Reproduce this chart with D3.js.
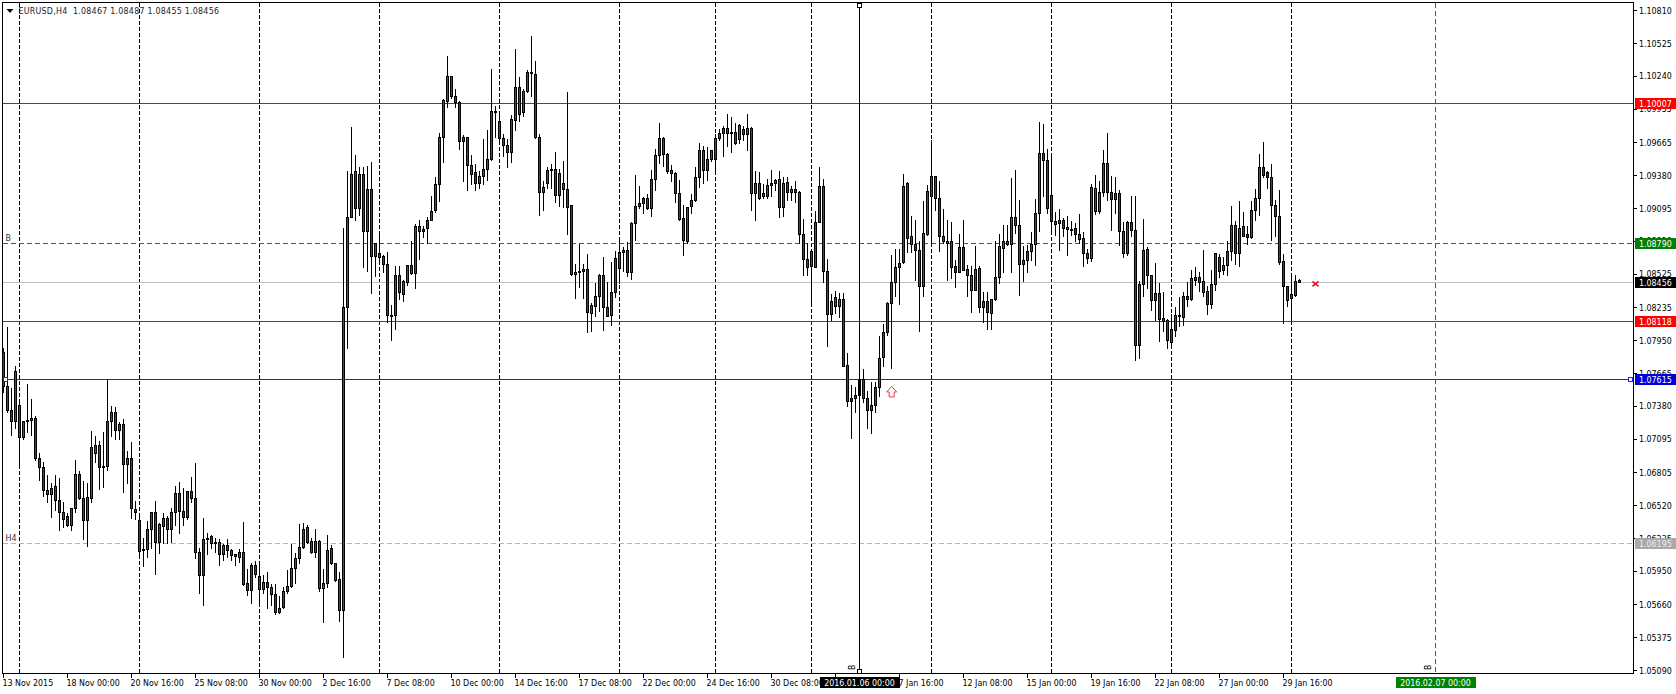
<!DOCTYPE html>
<html><head><meta charset="utf-8">
<script src="https://cdn.jsdelivr.net/npm/d3@7/dist/d3.min.js"></script>
<style>
html,body{margin:0;padding:0;background:#fff;overflow:hidden}
svg{display:block}
text{font-family:"DejaVu Sans","Liberation Sans",sans-serif;font-stretch:condensed;font-size:8.8px;fill:#000}
</style></head><body>
<svg id="c" width="1676" height="694"></svg>
<script>
// Prices in points above 1.00000 (8456 means 1.08456)
const highs=[7892,8074,7545,7733,7450,7251,7580,7450,7300,6979,
6904,6788,6722,6788,6765,6557,6462,6505,6921,6823,
6736,6722,7170,7123,7083,7164,7623,7386,7381,7251,
7277,6996,7074,6563,6462,6245,6390,6471,6563,6375,
6456,6433,6505,6693,6728,6679,6641,6771,6895,6159,
6419,6283,6268,6245,6234,6187,6237,6144,6101,6150,
6384,5971,6029,6043,6043,5919,5948,5841,5847,5740,
5818,5965,6193,6115,6367,6375,6355,6245,6317,6222,
5977,6271,6179,6029,5951,8929,9426,9807,9564,9460,
9455,9469,9504,8790,8871,8698,8724,8264,8596,8602,
8478,8599,8819,8963,8998,8949,9027,9209,9368,9755,
10044,10422,10240,10133,10027,9735,9712,9564,9483,9420,
9703,9778,10310,9986,9946,9743,9700,9908,10483,10235,
10136,10301,10596,10379,9743,9339,9455,9483,9590,9440,
9512,10110,9128,8617,8790,8617,8703,8276,8452,8530,
8674,8464,8637,8732,8848,8761,8804,8978,9391,9296,
9194,9223,9434,9613,9842,9720,9576,9475,9417,9348,
9125,9108,9223,9455,9663,9642,9628,9599,9743,9787,
9816,9917,9888,9839,9830,9816,9917,9801,9420,9411,
9310,9353,9431,9353,9426,9368,9368,9296,9333,9246,
9007,8799,8747,9079,9455,9353,8660,8357,8386,8365,
8363,7846,7569,7548,7707,7707,7520,7592,7592,7996,
8097,8291,8698,8747,8747,9397,9331,9036,8999,8820,
9166,9305,9692,9371,9340,9094,8999,8981,8652,8877,
8999,8612,8603,8776,8597,8372,8378,8314,8820,8877,
8958,8958,9363,9432,9175,8776,8785,8898,9178,9848,
9831,9614,9556,9065,9094,9016,9036,8987,8973,9051,
8892,8747,9311,9392,9340,9605,9753,9383,9369,9259,
8979,8993,9210,9210,8473,9007,8762,8525,8626,8453,
8372,8141,8184,8242,8328,8372,8458,8565,8594,8545,
8739,8430,8565,8704,8704,8675,8820,9123,8987,9166,
9065,8950,9166,9267,9571,9678,9426,9484,9175,9259,
8704,8421,8531,8525,8487];
const lows=[7502,7323,7129,7184,6858,7095,7155,7126,6910,6736,
6595,6549,6419,6476,6300,6332,6338,6303,6462,6569,
6222,6164,6549,6895,6655,6673,6823,7118,7089,7089,
6629,6707,6404,6395,6072,5994,6072,6144,5919,6101,
6187,6187,6202,6346,6274,6346,6395,6549,6063,5760,
5650,6092,6150,6109,5997,6043,6072,6043,6003,6029,
5829,5740,5673,5893,5653,5760,5624,5653,5572,5587,
5624,5760,5806,5847,6014,6150,6193,6107,6066,5777,
5503,5806,6005,5861,5517,5205,7883,9012,8986,9036,
8579,8544,8354,8501,8617,8536,8105,7952,8048,8308,
8290,8423,8524,8397,8651,8842,8790,8986,9056,9151,
9495,9969,10050,9969,9608,9324,9246,9304,9252,9267,
9304,9339,9512,9709,9663,9547,9446,9489,9767,9847,
9888,10102,10061,9700,9036,9079,9267,9267,9145,9114,
9102,8871,8516,8310,8409,8310,8016,8024,8154,8198,
8039,8154,8076,8322,8443,8544,8501,8478,8819,9093,
9050,9088,9021,9252,9483,9460,9397,9324,9142,8986,
8689,8790,9050,9157,9275,9310,9339,9498,9397,9680,
9547,9634,9576,9651,9657,9686,9593,9079,8986,9174,
9180,9180,9194,9252,9012,9021,9166,9166,9142,8790,
8516,8516,8256,8579,8969,8449,7894,8120,8183,8149,
7722,7381,7098,7323,7173,7413,7187,7144,7323,7462,
7722,7990,7707,8334,8259,8617,8710,8710,8473,8025,
8328,8863,8791,9074,8719,8791,8473,8487,8407,8536,
8554,8328,8190,8380,8190,8103,8045,8045,8300,8444,
8536,8776,8536,8877,8337,8458,8536,8646,8597,8892,
9195,9051,8877,8863,8733,8849,8684,8857,8805,8791,
8589,8617,8632,9045,9051,9195,9161,8906,9051,8776,
8669,8690,8849,7774,7794,8328,8401,8213,8126,7938,
8025,7884,7881,7982,8068,8080,8242,8300,8430,8372,
8328,8178,8224,8380,8496,8525,8516,8646,8609,8589,
8849,8785,8837,8993,9036,9363,9267,8820,8849,8612,
8097,8242,8126,8328,8455];
const opens=[7849,7551,7343,7245,7386,7106,7245,7256,7274,6924,
6846,6647,6612,6684,6560,6459,6424,6343,6491,6788,
6580,6390,6578,6970,7040,6858,6858,7248,7326,7170,
7222,6875,6927,6485,6390,6127,6138,6312,6462,6196,
6341,6407,6309,6459,6627,6471,6413,6641,6580,6112,
5910,6228,6254,6202,6199,6092,6176,6133,6095,6072,
6112,5847,5780,6000,5904,5789,5852,5809,5748,5589,
5639,5774,5815,5974,6060,6156,6329,6208,6109,6211,
5797,5841,6147,6020,5878,5607,8235,9015,9414,9090,
9391,8899,9261,8674,8703,8680,8608,8163,8163,8513,
8345,8455,8599,8527,8937,8914,8917,8986,9073,9298,
9712,10018,10240,10067,10015,9671,9712,9469,9408,9313,
9371,9431,9515,9923,9847,9703,9639,9576,9853,10142,
9923,10105,10263,10255,9712,9229,9307,9423,9431,9209,
9310,9258,9119,8518,8536,8544,8565,8180,8241,8328,
8513,8235,8163,8362,8570,8709,8732,8536,8963,9108,
9137,9180,9090,9342,9550,9703,9564,9394,9397,9226,
9007,8810,9108,9160,9362,9596,9420,9515,9518,9697,
9743,9790,9743,9752,9688,9781,9732,9787,9220,9313,
9200,9200,9290,9307,9345,9099,9319,9229,9258,9235,
8868,8651,8718,8585,8972,9284,8544,8172,8319,8241,
8305,7733,7447,7444,7473,7612,7447,7340,7384,7543,
7800,8016,8271,8450,8580,8623,9311,8851,8785,8730,
8415,8872,9195,9371,9181,8851,8808,8808,8589,8539,
8756,8565,8513,8386,8574,8233,8288,8181,8302,8493,
8747,8808,8782,9016,8947,8606,8646,8719,8785,9048,
9571,9510,9207,8981,8961,8987,8929,8915,8921,8869,
8834,8707,8658,9267,9071,9230,9484,9230,9169,9224,
8895,8701,8973,8906,7904,8435,8739,8516,8300,8357,
8141,8126,7930,8040,8155,8146,8331,8305,8473,8496,
8458,8375,8259,8432,8669,8560,8597,8719,8947,8707,
8938,8872,8840,9077,9178,9449,9403,9363,9120,9025,
8635,8415,8311,8343,8467];
const closes=[7551,7343,7245,7684,7106,7251,7256,7274,6924,6846,
6647,6612,6667,6560,6459,6395,6343,6494,6788,6578,
6390,6589,7022,7040,6849,6849,7251,7326,7170,7222,
6875,6927,6494,6456,6124,6141,6312,6462,6196,6358,
6407,6309,6459,6627,6465,6419,6641,6578,6109,5910,
6225,6234,6187,6187,6092,6176,6127,6083,6078,6112,
5838,5780,6000,5919,5789,5852,5806,5745,5589,5624,
5774,5818,5974,6060,6156,6312,6202,6115,6208,5797,
5844,6130,6014,5867,5607,8235,9015,9391,9090,9391,
8899,9261,8674,8787,8666,8608,8163,8166,8513,8362,
8461,8599,8527,8937,8899,8894,8992,9070,9301,9712,
10027,10240,10061,10009,9671,9712,9463,9385,9310,9371,
9434,9518,9934,9931,9697,9639,9576,9865,10142,9905,
10107,10275,10272,9706,9232,9275,9423,9431,9203,9397,
9255,9099,8518,8542,8547,8565,8189,8256,8331,8513,
8232,8160,8365,8660,8712,8732,8536,8966,9111,9137,
9180,9090,9345,9556,9703,9558,9414,9423,9223,9001,
8813,9105,9163,9365,9596,9420,9518,9596,9700,9743,
9787,9741,9752,9654,9816,9732,9787,9220,9313,9183,
9223,9293,9310,9336,9099,9313,9229,9258,9232,8868,
8648,8582,8588,8972,9284,8544,8175,8287,8241,8308,
7728,7418,7418,7473,7612,7447,7340,7387,7543,7794,
8019,8274,8453,8583,8617,9285,8831,8779,8727,8415,
8877,9241,9371,9178,8849,8805,8791,8580,8539,8756,
8560,8510,8386,8565,8236,8288,8190,8305,8496,8768,
8808,8782,9016,8944,8606,8643,8721,8785,9051,9571,
9510,9091,8981,8953,8987,8924,8912,8909,8866,8828,
8701,8658,9276,9065,9233,9484,9230,9169,9224,8892,
8701,8973,8901,7904,8435,8730,8513,8300,8357,8135,
8118,7953,8045,8167,8167,8331,8305,8487,8496,8456,
8369,8259,8435,8704,8551,8600,8721,8947,8707,8924,
8854,8840,9077,9181,9449,9383,9360,9117,9022,8626,
8415,8297,8349,8458,8456];

const priceTicks=["1.10810","1.10525","1.10240","1.09955","1.09665","1.09380","1.09095","1.08810","1.08525","1.08235","1.07950","1.07665","1.07380","1.07095","1.06805","1.06520","1.06235","1.05950","1.05660","1.05375","1.05090"];
const timeTickBars=d3.range(0,321,16);
const timeTickLabels=["13 Nov 2015","18 Nov 00:00","20 Nov 16:00","25 Nov 08:00","30 Nov 00:00","2 Dec 16:00","7 Dec 08:00","10 Dec 00:00","14 Dec 16:00","17 Dec 08:00","22 Dec 00:00","24 Dec 16:00","30 Dec 08:00","5 Jan 00:00","7 Jan 16:00","12 Jan 08:00","15 Jan 00:00","19 Jan 16:00","22 Jan 08:00","27 Jan 00:00","29 Jan 16:00"];
const separatorBars=[4,34,64,94,124,154,178,202,232,262,292,322];
const levelPrices=[1.10007,1.08790,1.08456,1.08118,1.07615,1.06195];
const levelColors=["#d01018","#1a7a2a","#c0c0c0","#d01018","#1c1cff","#b4b4b4"];
const levelDashes=[null,"5,3",null,null,null,"5,3"];
const levelBoxColors=["#ff0000","#008000","#000000","#ff0000","#0000dd","#a9a9a9"];
const levelBoxText=["#fff","#fff","#fff","#fff","#fff","#eee"];
const vlineBars=[214,358];
const vlineLabels=["2016.01.06 00:00","2016.02.07 00:00"];
const vlineColors=["#000","#1a7a2a"];
const vlineBoxColors=["#000","#008000"];
const vlineDashes=[null,"5,3"];
const arrowBar=222, arrowPrice=1.07504;
const crossBar=328, crossPrice=1.08440;
const title="EURUSD,H4  1.08467 1.08487 1.08455 1.08456";

const L=2.5,T=2.5,R=1633.5,B=673.5;
const toPrice=v=>1+v/1e5;
const x=d3.scaleLinear().domain([0,324]).range([3.5,1299.5]);
const y=d3.scaleLinear().domain([1.0509,1.1081]).range([670.5,10.5]);
const py=p=>Math.round(y(p)-.5)+.5;

const svg=d3.select("#c");
const crisp=svg.append("g").attr("shape-rendering","crispEdges");

// separators
crisp.append("g").selectAll("line").data(separatorBars).join("line")
 .attr("x1",d=>x(d)).attr("x2",d=>x(d)).attr("y1",T).attr("y2",B)
 .attr("stroke","#000").attr("stroke-dasharray","4,2");

// horizontal levels
crisp.append("g").selectAll("line").data(levelPrices).join("line")
 .attr("x1",L).attr("x2",R).attr("y1",d=>py(d)).attr("y2",d=>py(d))
 .attr("stroke",(d,i)=>levelColors[i]).attr("stroke-dasharray",(d,i)=>levelDashes[i]);

// vertical lines
crisp.append("g").selectAll("line").data(vlineBars).join("line")
 .attr("x1",d=>x(d)).attr("x2",d=>x(d)).attr("y1",T).attr("y2",B)
 .attr("stroke",(d,i)=>vlineColors[i]).attr("stroke-dasharray",(d,i)=>vlineDashes[i]);

// candles
const idx=d3.range(highs.length);
crisp.append("g").selectAll("line").data(idx).join("line")
 .attr("x1",i=>x(i)).attr("x2",i=>x(i))
 .attr("y1",i=>py(toPrice(highs[i]))).attr("y2",i=>py(toPrice(lows[i])))
 .attr("stroke","#000");
crisp.append("g").selectAll("rect").data(idx).join("rect")
 .attr("x",i=>x(i)-1)
 .attr("width",2)
 .attr("y",i=>py(toPrice(Math.max(opens[i],closes[i]))))
 .attr("height",i=>Math.max(1,py(toPrice(Math.min(opens[i],closes[i])))-py(toPrice(Math.max(opens[i],closes[i])))))
 .attr("fill",i=>closes[i]>=opens[i]?"#0f7a14":"#bb1414")
 .attr("stroke","#000");

// redraw black vline above the candle it crosses
crisp.append("line").attr("x1",x(vlineBars[0])).attr("x2",x(vlineBars[0])).attr("y1",T).attr("y2",B).attr("stroke","#000");

// frame
crisp.append("rect").attr("x",L).attr("y",T).attr("width",R-L).attr("height",B-T).attr("fill","none").attr("stroke","#000");

// y ticks
const yAxis=crisp.append("g");
yAxis.selectAll("line").data(priceTicks).join("line")
 .attr("x1",R).attr("x2",R+3.5).attr("y1",d=>py(+d)).attr("y2",d=>py(+d)).attr("stroke","#000");
svg.append("g").selectAll("text").data(priceTicks).join("text")
 .attr("x",1639).attr("y",d=>y(+d)+3.2).text(d=>d);

// x ticks
crisp.append("g").selectAll("line").data(timeTickBars).join("line")
 .attr("x1",d=>x(d)).attr("x2",d=>x(d)).attr("y1",B).attr("y2",B+4).attr("stroke","#000");
svg.append("g").selectAll("text").data(timeTickBars).join("text")
 .attr("x",d=>x(d)-1).attr("y",685.5).text((d,i)=>timeTickLabels[i]);

// level boxes
const fmt=d3.format(".5f");
const lb=svg.append("g").selectAll("g").data(levelPrices).join("g");
lb.append("rect").attr("shape-rendering","crispEdges").attr("x",1635).attr("width",41).attr("y",d=>py(d)-6).attr("height",11)
 .attr("fill",(d,i)=>levelBoxColors[i]);
lb.append("text").attr("x",1639).attr("y",d=>py(d)+3).style("fill",(d,i)=>levelBoxText[i]).text(d=>fmt(d));

// time boxes
const tb=svg.append("g").selectAll("g").data(vlineBars).join("g");
tb.append("rect").attr("shape-rendering","crispEdges").attr("x",d=>x(d)-40).attr("width",80).attr("y",677).attr("height",11)
 .attr("fill",(d,i)=>vlineBoxColors[i]);
tb.append("text").attr("x",d=>x(d)).attr("y",685.5).attr("text-anchor","middle").style("fill","#fff").text((d,i)=>vlineLabels[i]);

// vline tags
svg.append("g").selectAll("text").data(vlineBars).join("text")
 .attr("transform",d=>`translate(${x(d)-5},670) rotate(-90)`).text("B");

// handles
const handle=(cx,cy,c)=>crisp.append("rect").attr("x",cx-2).attr("y",cy-2).attr("width",4).attr("height",4).attr("fill","#fff").attr("stroke",c);
handle(x(vlineBars[0]),5,"#000");
handle(x(vlineBars[0]),671,"#000");
handle(1630.5,py(levelPrices[4]),"#1c1cff");
handle(5.5,py(levelPrices[4]),"#1c1cff");

// level tags
svg.append("text").attr("x",5.5).attr("y",y(levelPrices[1])-2.5).style("fill","#333").text("B");
svg.append("text").attr("x",5.5).attr("y",y(levelPrices[5])-2.5).style("fill","#333").text("H4");

// title
svg.append("path").attr("d","M6.5 9L13.5 9L10 13Z").attr("fill","#000");
svg.append("text").attr("x",18.5).attr("y",14).attr("xml:space","preserve").attr("textLength",200.5).attr("lengthAdjust","spacing").style("white-space","pre").style("fill","#222").text(title);

// up arrow
svg.append("path").attr("transform",`translate(${x(arrowBar)+.2},${y(arrowPrice)})`)
 .attr("d","M0,-5.5L5,0L2.5,0L2.5,5L-2.5,5L-2.5,0L-5,0Z").attr("fill","#fff").attr("stroke","#ee3355").attr("stroke-width",1);
// cross
svg.append("path").attr("transform",`translate(${x(crossBar)},${y(crossPrice)})`)
 .attr("d","M-3,-2.5L3,2.5M-3,2.5L3,-2.5").attr("stroke","#e8102a").attr("stroke-width",1.6).attr("fill","none");
</script>
</body></html>
